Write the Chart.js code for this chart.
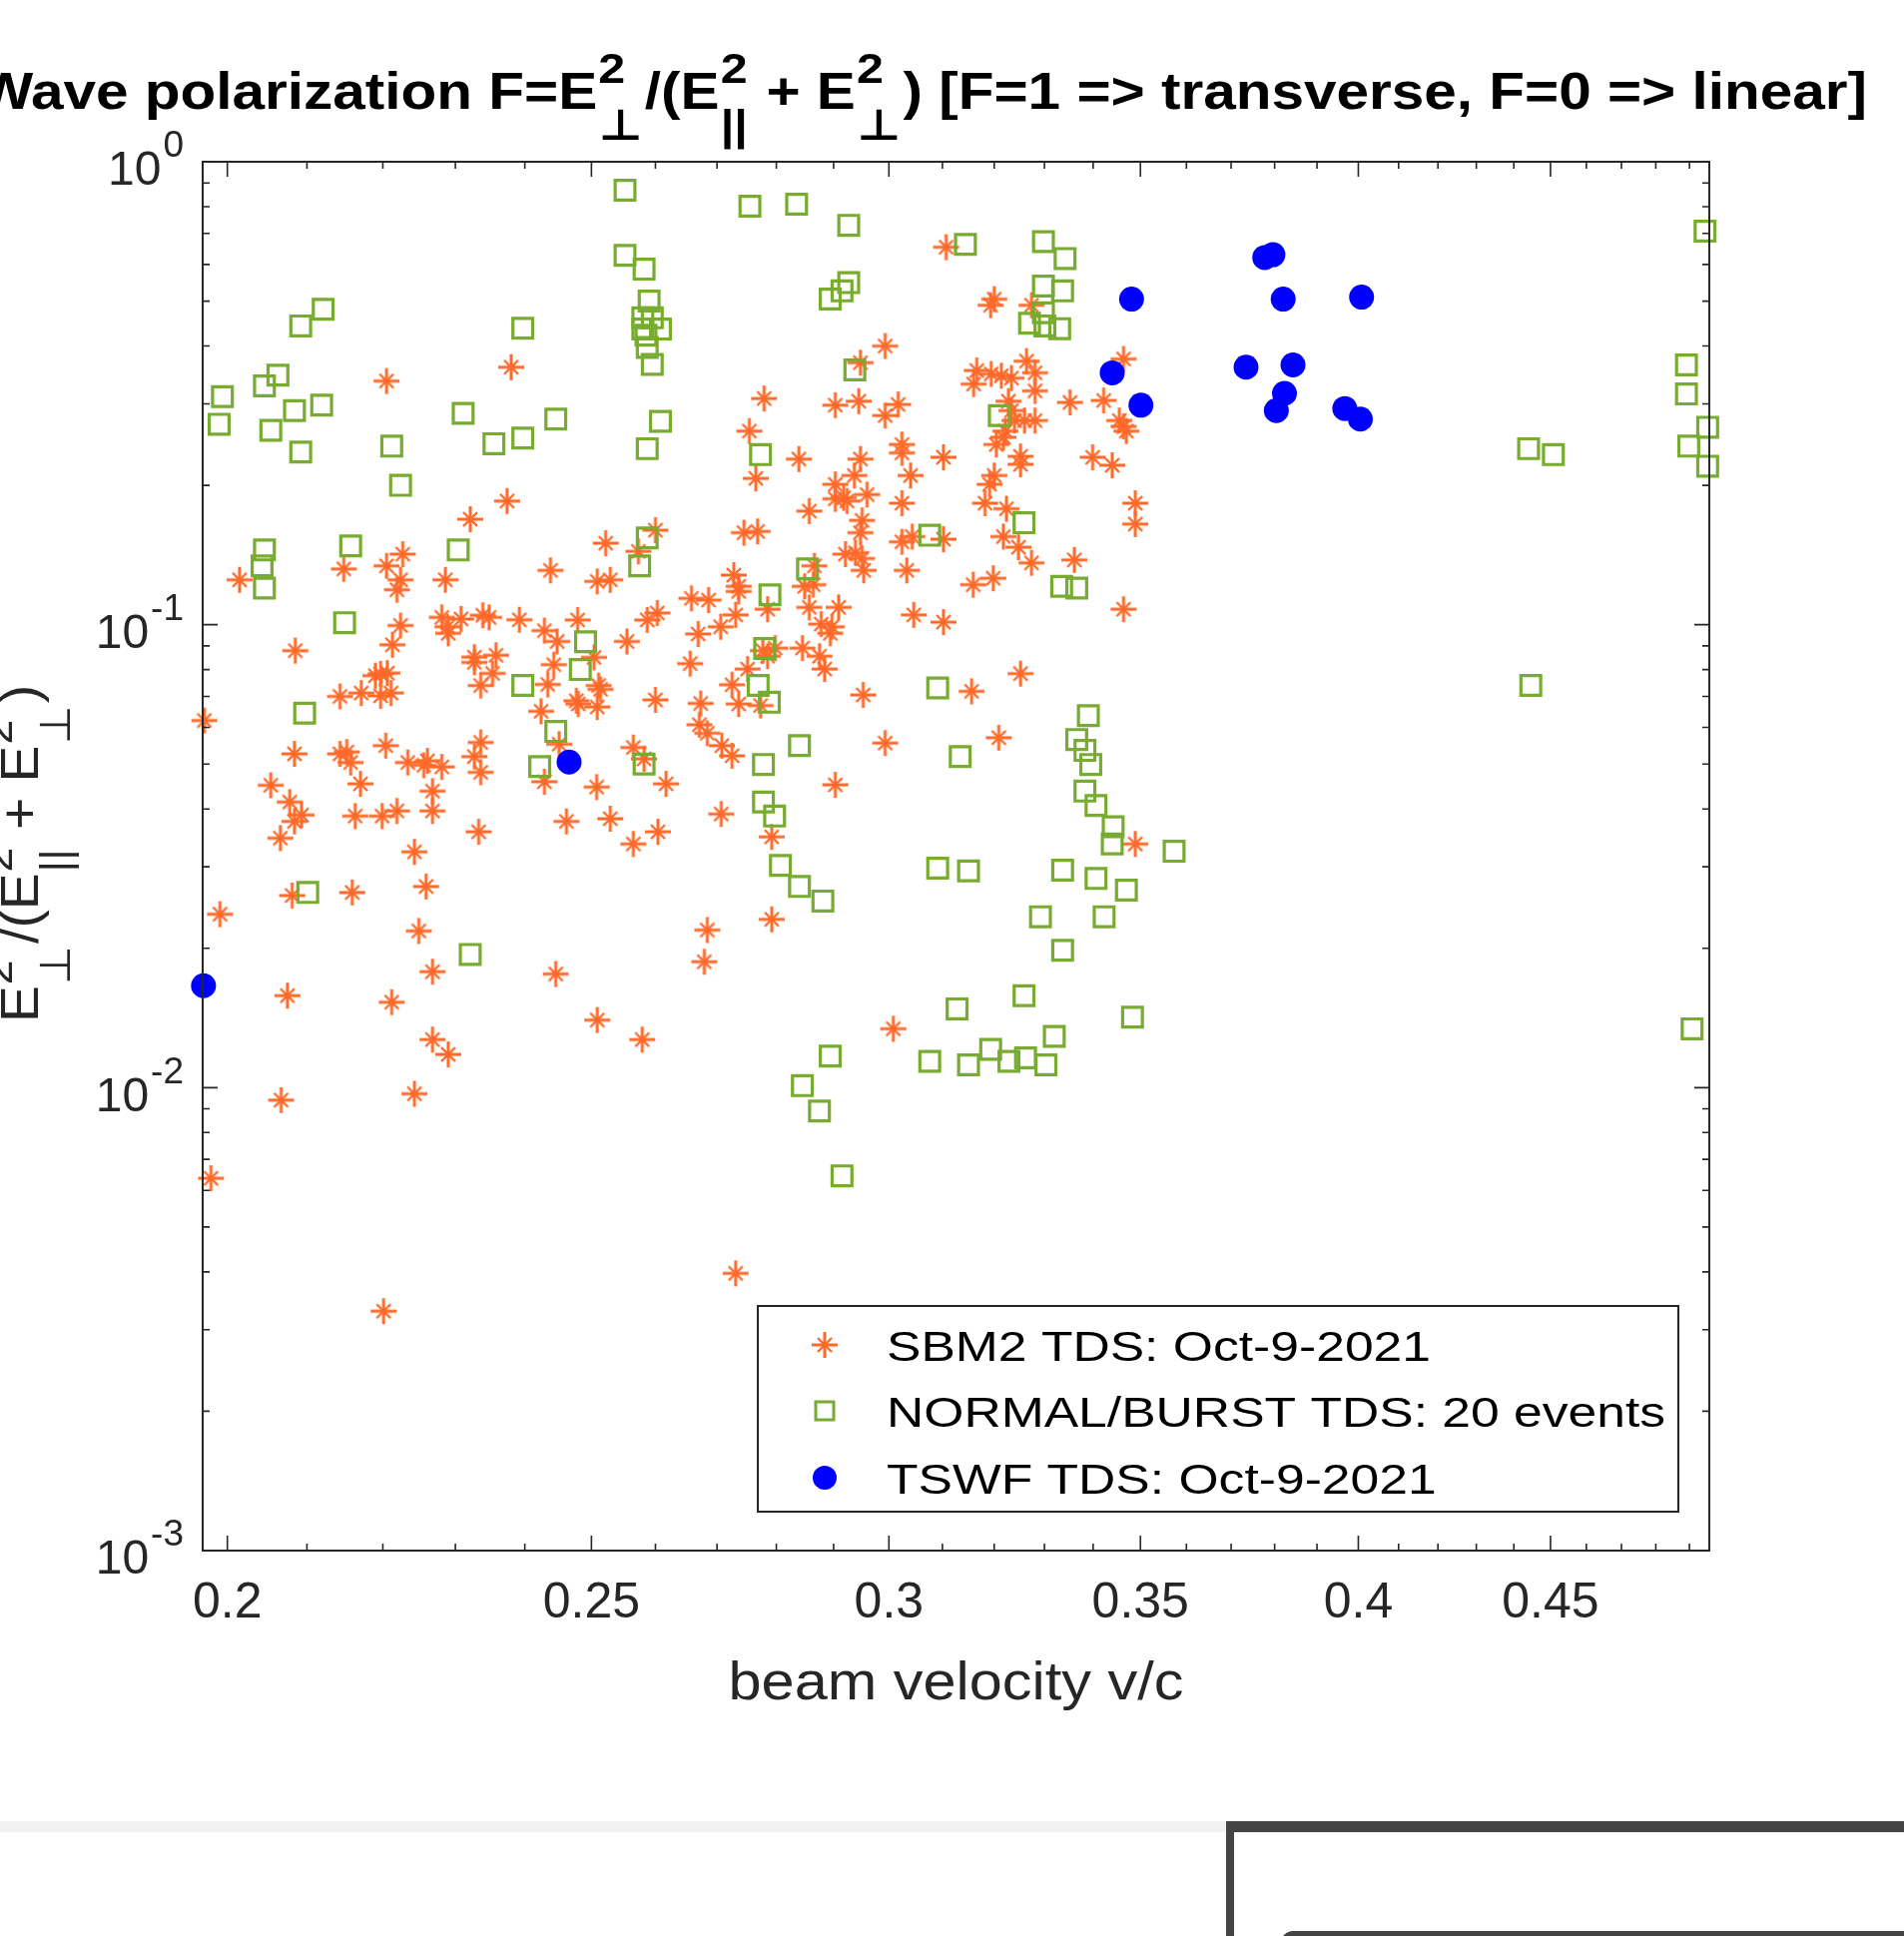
<!DOCTYPE html>
<html lang="en">
<head>
    <title>Wave polarization vs beam velocity</title>
    <meta charset="UTF-8">
    <script src="https://cdn.jsdelivr.net/npm/chart.js"></script>
    <style>
        html, body { margin: 0; padding: 0; background: #fff; }
        body { width: 1907px; height: 1939px; overflow: hidden; position: relative; }
        #plot { position: absolute; left: 0; top: 0; }
        .band { position: absolute; left: 0; top: 1824px; width: 1228px; height: 11px; background: #f2f2f2; }
        .panel { position: absolute; left: 1228px; top: 1824px; width: 679px; height: 115px;
                 border-top: 11px solid #444; border-left: 8px solid #444; box-sizing: border-box; }
        .panel-inner { position: absolute; left: 1283px; top: 1934px; width: 700px; height: 40px;
                       border: 5px solid #444; border-radius: 12px; box-sizing: border-box; }
    </style>
</head>
<body>
<canvas id="plot" width="1907" height="1824"></canvas>
<div class="band"></div>
<div class="panel"></div>
<div class="panel-inner"></div>
<script>
    // series names (legend)
    const seriesNames = ['SBM2 TDS: Oct-9-2021', 'NORMAL/BURST TDS: 20 events', 'TSWF TDS: Oct-9-2021'];

    // SBM2 TDS (orange asterisks)
    const sbm2X = [
        0.2205, 0.238, 0.2374, 0.2321, 0.26, 0.2522, 0.2573, 0.2438, 0.2509, 0.2529,
        0.2015, 0.2148, 0.2205, 0.2227, 0.2224, 0.2219, 0.2286, 0.2658, 0.2686, 0.2603,
        0.2587, 0.2224, 0.2281, 0.2308, 0.2339, 0.2348, 0.2392, 0.2479, 0.2429, 0.2289,
        0.3107, 0.32, 0.3193, 0.3274, 0.2993, 0.2948, 0.3464, 0.3166, 0.316, 0.3194,
        0.3214, 0.3234, 0.3264, 0.3281, 0.3281, 0.3352, 0.3422, 0.3455, 0.3464, 0.347,
        0.3228, 0.3234, 0.324, 0.326, 0.3281, 0.3222, 0.3204, 0.3218, 0.3252, 0.3252,
        0.3399, 0.344, 0.3102, 0.3024, 0.3024, 0.304, 0.2948, 0.2937, 0.2903, 0.2918,
        0.296, 0.2903, 0.2924, 0.2839, 0.2779, 0.2754, 0.2765, 0.2903, 0.2945, 0.3017,
        0.2993, 0.3024, 0.3182, 0.3191, 0.32, 0.3224, 0.3489, 0.3489, 0.3361, 0.3464,
        0.3218, 0.3248, 0.3274, 0.3159, 0.3198, 0.3102, 0.3024, 0.3043, 0.3033, 0.3046,
        0.3102, 0.2951, 0.2948, 0.2939, 0.2951, 0.2954, 0.2921, 0.2857, 0.2745, 0.2768,
        0.2728, 0.2736, 0.2736, 0.2849, 0.2864, 0.2866, 0.2785, 0.2857, 0.2909, 0.2878,
        0.2897, 0.2731, 0.2706,
        0.2085, 0.2213, 0.229, 0.2197, 0.219, 0.2206, 0.2143, 0.2171, 0.2197, 0.2211,
        0.1972, 0.2084, 0.2152, 0.2157, 0.217, 0.2143, 0.2204, 0.2234, 0.2256, 0.2281,
        0.2261, 0.2336, 0.2327, 0.2336, 0.2054, 0.2078, 0.2093, 0.2084, 0.2066, 0.2163,
        0.2199, 0.2219, 0.2268, 0.2268, 0.2333, 0.2243, 0.2259, 0.2081, 0.2159, 0.1991,
        0.2249, 0.2268, 0.2075, 0.2212, 0.2446, 0.2509, 0.2579, 0.2268, 0.229, 0.2448,
        0.2443, 0.2434, 0.2504, 0.2511, 0.2514, 0.2555, 0.2669, 0.2656, 0.2327, 0.2327,
        0.2358, 0.2353, 0.2336, 0.2424, 0.248, 0.2509, 0.2477, 0.2451, 0.2429, 0.2508,
        0.2529, 0.2462, 0.2565, 0.2582, 0.2617, 0.2565, 0.2604, 0.26, 0.2673, 0.2671,
        0.2684, 0.2684, 0.2679,
        0.2894, 0.2777, 0.2798, 0.2785, 0.2845, 0.2875, 0.2884, 0.2751, 0.2725, 0.2736,
        0.2773, 0.2708, 0.2725, 0.2953, 0.3156, 0.3252, 0.2993, 0.3209, 0.2903, 0.2707,
        0.2792, 0.2792, 0.3489, 0.3008,
        0.2067, 0.2243, 0.198, 0.2201, 0.2731
    ];
    const sbm2Y = [
        0.336, 0.36, 0.185, 0.169, 0.160, 0.150, 0.144, 0.131, 0.124, 0.125,
        0.125, 0.132, 0.134, 0.142, 0.125, 0.119, 0.125, 0.114, 0.113, 0.106,
        0.1024, 0.0996, 0.1037, 0.1029, 0.1048, 0.1037, 0.1025, 0.1024, 0.0971, 0.099,
        0.654, 0.505, 0.49, 0.49, 0.40, 0.368, 0.375, 0.354, 0.331, 0.348,
        0.345, 0.341, 0.371, 0.35, 0.32, 0.302, 0.305, 0.276, 0.268, 0.262,
        0.304, 0.29, 0.276, 0.276, 0.276, 0.262, 0.245, 0.254, 0.231, 0.222,
        0.23, 0.221, 0.23, 0.245, 0.235, 0.21, 0.228, 0.21, 0.201, 0.188,
        0.191, 0.187, 0.185, 0.228, 0.308, 0.262, 0.207, 0.298, 0.304, 0.299,
        0.283, 0.183, 0.183, 0.201, 0.21, 0.178, 0.183, 0.165, 0.138, 0.108,
        0.155, 0.147, 0.136, 0.122, 0.126, 0.153, 0.151, 0.155, 0.131, 0.105,
        0.1013, 0.168, 0.158, 0.143, 0.139, 0.131, 0.142, 0.176, 0.158, 0.159,
        0.128, 0.121, 0.118, 0.121, 0.122, 0.134, 0.108, 0.109, 0.109, 0.1003,
        0.099, 0.105, 0.099,
        0.0879, 0.0905, 0.0958, 0.0783, 0.0776, 0.0786, 0.07, 0.0712, 0.0702, 0.0712,
        0.0621, 0.0526, 0.0531, 0.0504, 0.0453, 0.0526, 0.0548, 0.0504, 0.0497, 0.0493,
        0.0508, 0.0557, 0.0519, 0.048, 0.045, 0.0414, 0.0388, 0.0376, 0.0346, 0.0386,
        0.0386, 0.0396, 0.0437, 0.0396, 0.0357, 0.0323, 0.0272, 0.026, 0.0264, 0.0237,
        0.0218, 0.0178, 0.0158, 0.0153, 0.0176, 0.014, 0.0127, 0.0127, 0.0118, 0.092,
        0.082, 0.0743, 0.085, 0.0739, 0.0725, 0.092, 0.0955, 0.0824, 0.0851, 0.0829,
        0.0859, 0.0785, 0.0739, 0.065, 0.0674, 0.0664, 0.0685, 0.0552, 0.0458, 0.0446,
        0.0381, 0.0376, 0.0543, 0.0513, 0.0453, 0.0336, 0.0357, 0.0688, 0.0676, 0.0608,
        0.0583, 0.0219, 0.0187,
        0.0958, 0.0879, 0.089, 0.0855, 0.089, 0.0855, 0.0802, 0.0802, 0.0742, 0.0674,
        0.0669, 0.0548, 0.0521, 0.0705, 0.0718, 0.0784, 0.0555, 0.057, 0.0451, 0.039,
        0.0348, 0.0231, 0.0336, 0.0134,
        0.0094, 0.0097, 0.00637, 0.00329, 0.00397
    ];

    // NORMAL/BURST TDS (green squares)
    const burstX = [
        0.2552, 0.2552, 0.2582, 0.259, 0.258, 0.2595, 0.2608, 0.258, 0.2585, 0.2587,
        0.2595, 0.2092, 0.2121, 0.2397, 0.1994, 0.199, 0.2046, 0.2063, 0.2054, 0.2084,
        0.2119, 0.2092, 0.2212, 0.2224, 0.2311, 0.2355, 0.2397, 0.2446, 0.2608, 0.2587,
        0.2046, 0.2043, 0.2046, 0.2157, 0.2304, 0.2575, 0.2587, 0.2149,
        0.2755, 0.2835, 0.2927, 0.3144, 0.3298, 0.3342, 0.2927, 0.2915, 0.2894, 0.3298,
        0.3337, 0.3298, 0.327, 0.3301, 0.3331, 0.2938, 0.321, 0.2773, 0.3259, 0.3076,
        0.2854, 0.2789, 0.3335, 0.3366,
        0.4947, 0.4891, 0.4891, 0.4955, 0.4898, 0.4955, 0.444, 0.4508, 0.4446, 0.4908,
        0.2097, 0.2491, 0.2483, 0.2397, 0.2446, 0.2422, 0.2582, 0.2101, 0.2321,
        0.278, 0.2769, 0.2788, 0.3091, 0.284, 0.2778, 0.3134, 0.2778, 0.2797, 0.339,
        0.3366, 0.3383, 0.3395, 0.3383, 0.3406, 0.3442, 0.344, 0.3573, 0.2807, 0.284,
        0.2881, 0.3091, 0.315, 0.3337, 0.3406, 0.347, 0.3292, 0.3423, 0.3337, 0.3128,
        0.3259, 0.3483, 0.332, 0.2894, 0.3076, 0.315, 0.3193, 0.3229, 0.3262, 0.3303,
        0.2845, 0.2875, 0.2915
    ];
    const burstY = [
        0.868, 0.628, 0.586, 0.50, 0.46, 0.46, 0.435, 0.435, 0.422, 0.397,
        0.365, 0.442, 0.48, 0.437, 0.311, 0.271, 0.328, 0.346, 0.263, 0.29,
        0.298, 0.236, 0.243, 0.20, 0.286, 0.246, 0.253, 0.278, 0.275, 0.24,
        0.145, 0.134, 0.12, 0.148, 0.145, 0.134, 0.154, 0.101,
        0.802, 0.81, 0.729, 0.663, 0.672, 0.618, 0.548, 0.526, 0.505, 0.539,
        0.526, 0.472, 0.448, 0.442, 0.436, 0.355, 0.283, 0.233, 0.166, 0.156,
        0.132, 0.116, 0.121, 0.12,
        0.708, 0.364, 0.315, 0.267, 0.243, 0.22, 0.24, 0.233, 0.0739, 0.0134,
        0.0644, 0.0919, 0.08, 0.0739, 0.0588, 0.0494, 0.05, 0.0264, 0.0194,
        0.0888, 0.0739, 0.068, 0.073, 0.0548, 0.0499, 0.0519, 0.0414, 0.0386, 0.0636,
        0.0565, 0.0535, 0.0499, 0.0437, 0.0407, 0.0366, 0.0336, 0.0324, 0.0302, 0.0272,
        0.0253, 0.0298, 0.0294, 0.0295, 0.0283, 0.0267, 0.0234, 0.0234, 0.0198, 0.0148,
        0.0158, 0.0142, 0.0129, 0.0117, 0.0114, 0.0112, 0.0121, 0.0114, 0.0116, 0.0112,
        0.0101, 0.0089, 0.00645
    ];

    // TSWF TDS (blue dots)
    const tswfX = [0.1971, 0.2466, 0.3481, 0.344, 0.3501, 0.3777, 0.3796, 0.382, 0.4008, 0.3734,
                   0.3843, 0.3823, 0.3804, 0.3967, 0.4005];
    const tswfY = [0.0166, 0.0505, 0.505, 0.350, 0.298, 0.621, 0.63, 0.505, 0.51, 0.360,
                   0.364, 0.316, 0.290, 0.293, 0.278];

    // axis ticks
    const xMajorTicks = [0.2, 0.25, 0.3, 0.35, 0.4, 0.45];
    const xTickLabels = ['0.2', '0.25', '0.3', '0.35', '0.4', '0.45'];
    const xMinorTicks = [0.21, 0.22, 0.23, 0.24, 0.26, 0.27, 0.28, 0.29, 0.31, 0.32, 0.33, 0.34,
                         0.36, 0.37, 0.38, 0.39, 0.41, 0.42, 0.43, 0.44, 0.46, 0.47, 0.48, 0.49];
    const yMajorTicks = [0.001, 0.01, 0.1, 1];
    const yTickExponents = ['-3', '-2', '-1', '0'];
    const yMinorTicks = [0.002, 0.003, 0.004, 0.005, 0.006, 0.007, 0.008, 0.009,
                         0.02, 0.03, 0.04, 0.05, 0.06, 0.07, 0.08, 0.09,
                         0.2, 0.3, 0.4, 0.5, 0.6, 0.7, 0.8, 0.9];

    const ORANGE = 'rgb(255,105,41)';
    const GREEN = 'rgb(119,172,48)';
    const BLUE = 'rgb(0,0,255)';
    const INK = '#262626';
    const FONT = '"Liberation Sans", Arial, "DejaVu Sans", sans-serif';

    const toPoints = (xs, ys) => xs.map((v, i) => ({x: v, y: ys[i]}));

    // matlab style '*' marker: long + arms, shorter x arms
    function makeAsterisk(color) {
        const c = document.createElement('canvas');
        c.width = 30; c.height = 30;
        const g = c.getContext('2d');
        g.strokeStyle = color;
        g.lineWidth = 3;
        g.beginPath();
        g.moveTo(2, 15); g.lineTo(28, 15);
        g.moveTo(15, 2); g.lineTo(15, 28);
        g.stroke();
        g.lineWidth = 2.4;
        g.beginPath();
        g.moveTo(8, 8); g.lineTo(22, 22);
        g.moveTo(22, 8); g.lineTo(8, 22);
        g.stroke();
        return c;
    }
    const asterisk = makeAsterisk(ORANGE);

    // text with sub/superscript stacks: parts are strings or [sup, sub]
    function richLayout(ctx, parts, size, weight) {
        const main = weight + ' ' + size + 'px ' + FONT;
        const small = weight + ' ' + Math.round(size * 0.82) + 'px ' + FONT;
        const items = [];
        let w = 0;
        parts.forEach(p => {
            if (typeof p === 'string') {
                ctx.font = main;
                items.push({t: p, u: w, font: main, dy: 0});
                w += ctx.measureText(p).width;
            } else {
                ctx.font = small;
                const a = ctx.measureText(p[0]).width, b = ctx.measureText(p[1]).width;
                items.push({t: p[0], u: w + 1, font: small, dy: -size * 0.5});
                items.push({t: p[1], u: w + 1, font: small, dy: size * 0.6});
                w += Math.max(a, b) + size * 0.06;
            }
        });
        return {items, w};
    }
    function drawRich(ctx, layout) {
        layout.items.forEach(it => {
            ctx.font = it.font;
            ctx.fillText(it.t, it.u, it.dy);
        });
    }
    function stretchedText(ctx, str, x, y, font, width, align) {
        ctx.save();
        ctx.font = font;
        const sx = width / ctx.measureText(str).width;
        ctx.translate(x, y);
        ctx.scale(sx, 1);
        ctx.textAlign = align;
        ctx.fillText(str, 0, 0);
        ctx.restore();
    }

    const matlabAxes = {
        id: 'matlabAxes',
        afterDraw(chart) {
            const {ctx, chartArea: a} = chart;
            const xs = chart.scales.x, ys = chart.scales.y;
            ctx.save();

            // box and inward ticks
            ctx.strokeStyle = INK;
            ctx.lineWidth = 2;
            ctx.strokeRect(a.left, a.top, a.right - a.left, a.bottom - a.top);
            ctx.lineWidth = 1.6;
            ctx.beginPath();
            const xt = (v, len) => {
                const p = xs.getPixelForValue(v);
                ctx.moveTo(p, a.bottom); ctx.lineTo(p, a.bottom - len);
                ctx.moveTo(p, a.top); ctx.lineTo(p, a.top + len);
            };
            const yt = (v, len) => {
                const p = ys.getPixelForValue(v);
                ctx.moveTo(a.left, p); ctx.lineTo(a.left + len, p);
                ctx.moveTo(a.right, p); ctx.lineTo(a.right - len, p);
            };
            xMajorTicks.forEach(v => xt(v, 15));
            xMinorTicks.forEach(v => xt(v, 7));
            yMajorTicks.forEach(v => yt(v, 15));
            yMinorTicks.forEach(v => yt(v, 7));
            ctx.stroke();

            // tick labels
            ctx.fillStyle = INK;
            ctx.textBaseline = 'middle';
            ctx.textAlign = 'center';
            ctx.font = '50px ' + FONT;
            xMajorTicks.forEach((v, i) => ctx.fillText(xTickLabels[i], xs.getPixelForValue(v), 1606));
            // y labels: whole "10^k" right-aligned next to the axis
            yMajorTicks.forEach((v, i) => {
                const p = ys.getPixelForValue(v);
                ctx.font = '37px ' + FONT;
                const ew = ctx.measureText(yTickExponents[i]).width;
                ctx.textAlign = 'right';
                ctx.fillText(yTickExponents[i], 184, p - 15);
                ctx.font = '48px ' + FONT;
                ctx.fillText('10', 184 - ew - 2, p + 10);
            });

            // x axis label
            ctx.textBaseline = 'alphabetic';
            stretchedText(ctx, 'beam velocity v/c', (a.left + a.right) / 2, 1702, '54px ' + FONT, 456, 'center');

            // y axis label (rotated)
            const yParts = ['E', ['2', '\u22A5'], '/(E', ['2', '||'], ' + E', ['2', '\u22A5'], ')'];
            const yl = richLayout(ctx, yParts, 53, 'normal');
            ctx.save();
            ctx.translate(38, 855);
            ctx.rotate(-Math.PI / 2);
            ctx.scale(338 / yl.w, 1);
            ctx.translate(-yl.w / 2, 0);
            ctx.textAlign = 'left';
            drawRich(ctx, yl);
            ctx.restore();

            // title
            ctx.fillStyle = '#000';
            const tParts = ['Wave polarization F=E', ['2', '\u22A5'], '/(E', ['2', '||'], ' + E', ['2', '\u22A5'],
                            ') [F=1 => transverse, F=0 => linear]'];
            const tl = richLayout(ctx, tParts, 52, 'bold');
            ctx.save();
            ctx.translate(-22, 109);
            ctx.scale(1892 / tl.w, 1);
            ctx.textAlign = 'left';
            drawRich(ctx, tl);
            ctx.restore();

            // legend
            const lx0 = 759, ly0 = 1308, lx1 = 1681, ly1 = 1514;
            ctx.fillStyle = '#fff';
            ctx.fillRect(lx0, ly0, lx1 - lx0, ly1 - ly0);
            ctx.strokeStyle = INK;
            ctx.lineWidth = 2;
            ctx.strokeRect(lx0, ly0, lx1 - lx0, ly1 - ly0);
            const rows = [1347, 1413, 1480];
            const mx = 826;
            ctx.drawImage(asterisk, mx - 15, rows[0] - 15);
            ctx.strokeStyle = GREEN;
            ctx.lineWidth = 3;
            ctx.strokeRect(mx - 9, rows[1] - 9, 18, 18);
            ctx.fillStyle = BLUE;
            ctx.beginPath();
            ctx.arc(mx, rows[2], 12, 0, Math.PI * 2);
            ctx.fill();
            ctx.fillStyle = '#000';
            ctx.textBaseline = 'middle';
            const lFont = '43px ' + FONT;
            ctx.font = lFont;
            const lsx = 545 / ctx.measureText(seriesNames[0]).width;
            seriesNames.forEach((s, i) => {
                ctx.save();
                ctx.font = lFont;
                ctx.translate(888, rows[i] + 4);
                ctx.scale(lsx, 1);
                ctx.textAlign = 'left';
                ctx.fillText(s, 0, 0);
                ctx.restore();
            });
            ctx.restore();
        }
    };

    new Chart(document.getElementById('plot').getContext('2d'), {
        type: 'scatter',
        data: {
            datasets: [{
                label: seriesNames[0],
                data: toPoints(sbm2X, sbm2Y),
                pointStyle: asterisk,
                pointRadius: 13,
                order: 2,
                clip: false
            }, {
                label: seriesNames[1],
                data: toPoints(burstX, burstY),
                pointStyle: 'rect',
                pointRadius: 14,
                pointBorderWidth: 3.2,
                pointBorderColor: GREEN,
                pointBackgroundColor: 'rgba(0,0,0,0)',
                order: 1,
                clip: false
            }, {
                label: seriesNames[2],
                data: toPoints(tswfX, tswfY),
                pointStyle: 'circle',
                pointRadius: 12.5,
                pointBorderWidth: 0,
                pointBorderColor: BLUE,
                pointBackgroundColor: BLUE,
                order: 0,
                clip: false
            }]
        },
        options: {
            responsive: false,
            animation: false,
            devicePixelRatio: 1,
            events: [],
            layout: {padding: {left: 203, top: 162, right: 195, bottom: 271}},
            plugins: {
                legend: {display: false},
                title: {display: false},
                tooltip: {enabled: false}
            },
            scales: {
                x: {type: 'logarithmic', min: 0.197, max: 0.496, display: false},
                y: {type: 'logarithmic', min: 0.001, max: 1, display: false}
            }
        },
        plugins: [matlabAxes]
    });
</script>
</body>
</html>
